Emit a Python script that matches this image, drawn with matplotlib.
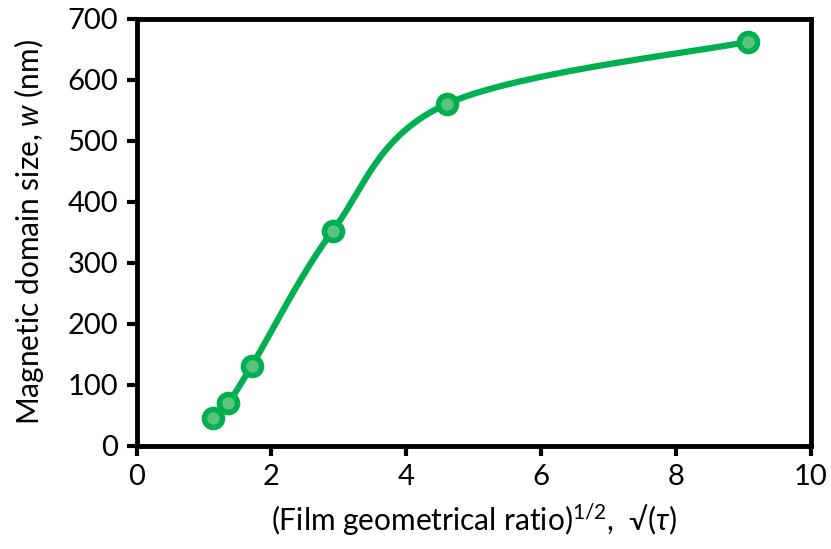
import numpy as np
import matplotlib
matplotlib.use("Agg")
import matplotlib.pyplot as plt

# Data
sqrt_tau = [1.13, 1.36, 1.71, 2.91, 4.60, 9.07]
domain_w = [45, 70, 131, 352, 560, 662]
xticks = [0, 2, 4, 6, 8, 10]
yticks = [0, 100, 200, 300, 400, 500, 600, 700]

GREEN = "#00B050"

plt.rcParams['font.family'] = ['Lato', 'DejaVu Sans']
plt.rcParams['mathtext.fontset'] = 'custom'
plt.rcParams['mathtext.rm'] = 'Lato'
plt.rcParams['mathtext.it'] = 'Lato:italic'

fig = plt.figure(figsize=(8.31, 5.49), dpi=100)
ax = fig.add_axes([0.1643, 0.1885, 0.9759 - 0.1643, 0.9663 - 0.1885])
ax.set_xlim(0, 10)
ax.set_ylim(0, 700)
ax.set_xticks(xticks)
ax.set_yticks(yticks)
ax.tick_params(direction='out', length=7, width=3, labelsize=21, pad=6)
for s in ax.spines.values():
    s.set_linewidth(3.5)
    s.set_color('black')

ax.set_xlabel('(Film geometrical ratio)$^{1/2}$,  √($\\tau$)', fontsize=21.5, labelpad=9)
ax.set_ylabel('Magnetic domain size, $w$ (nm)', fontsize=21.5, labelpad=16)

# Excel-style smoothed line computed in display space
fig.canvas.draw()
P = ax.transData.transform(np.column_stack([sqrt_tau, domain_w]))
n = len(P)
pts = []
for i in range(n - 1):
    p0 = P[i - 1] if i > 0 else P[i]
    p1 = P[i]
    p2 = P[i + 1]
    p3 = P[i + 2] if i + 2 < n else P[i + 1]
    c1 = p1 + (p2 - p0) / 6.0
    c2 = p2 - (p3 - p1) / 6.0
    t = np.linspace(0, 1, 60)[:, None]
    seg = (1 - t) ** 3 * p1 + 3 * (1 - t) ** 2 * t * c1 + 3 * (1 - t) * t ** 2 * c2 + t ** 3 * p2
    pts.append(seg if i == 0 else seg[1:])
curve = ax.transData.inverted().transform(np.vstack(pts))
ax.plot(curve[:, 0], curve[:, 1], color=GREEN, lw=4.5, solid_capstyle='round', zorder=2)
ax.plot(sqrt_tau, domain_w, 'o', ms=13, mfc='#5cc47f', mec=GREEN, mew=4, zorder=3)

fig.savefig('out.png', dpi=100)
